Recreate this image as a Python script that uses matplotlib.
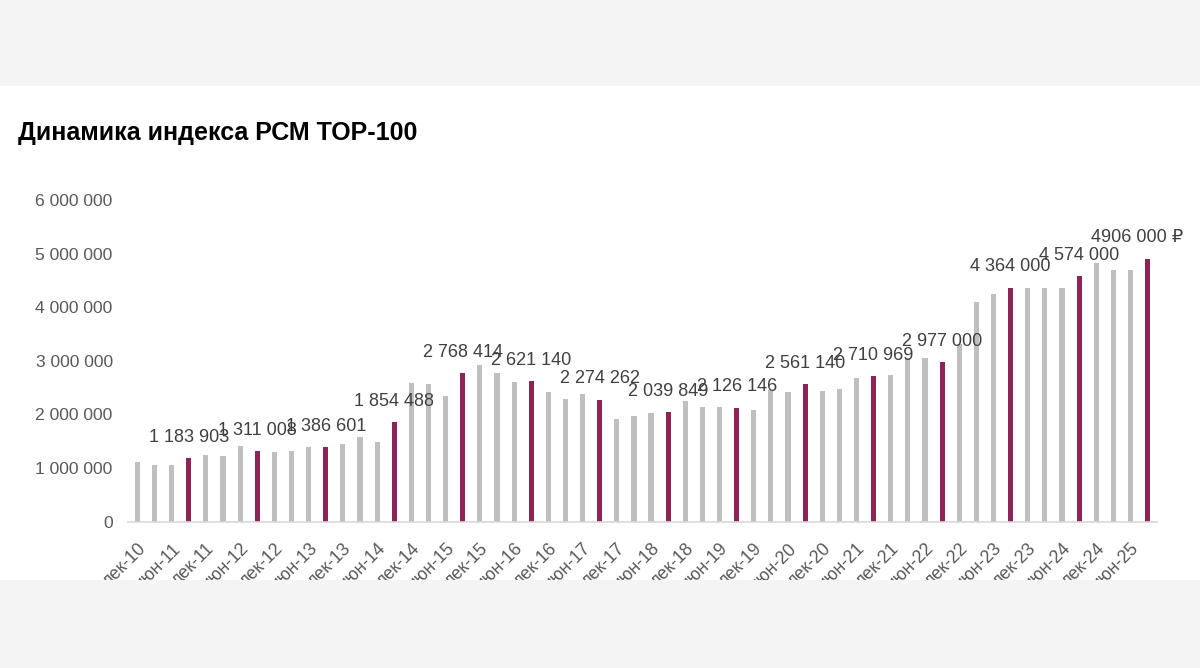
import matplotlib
matplotlib.use("Agg")
import matplotlib.pyplot as plt
from matplotlib.patches import Rectangle

plt.rcParams["font.family"] = ["Liberation Sans", "DejaVu Sans"]

# --- Данные: индекс РСМ ТОР-100, 60 значений ---
values = [
    1120000, 1060000, 1060000, 1183903,
    1247000, 1234000, 1415000, 1311008,
    1297000, 1327000, 1400000, 1386601,
    1458000, 1589000, 1495000, 1854488,
    2587000, 2574000, 2336000, 2768414,
    2930000, 2770000, 2605000, 2621140,
    2410000, 2290000, 2380000, 2274262,
    1910000, 1980000, 2025000, 2039849,
    2255000, 2130000, 2130000, 2126146,
    2080000, 2460000, 2420000, 2561140,
    2430000, 2475000, 2680000, 2710969,
    2737000, 3060000, 3050000, 2977000,
    3320000, 4100000, 4250000, 4364000,
    4360000, 4350000, 4360000, 4574000,
    4820000, 4700000, 4690000, 4906000,
]

tick_labels = [
    "дек-10", "июн-11", "дек-11", "июн-12", "дек-12", "июн-13",
    "дек-13", "июн-14", "дек-14", "июн-15", "дек-15", "июн-16",
    "дек-16", "июн-17", "дек-17", "июн-18", "дек-18", "июн-19",
    "дек-19", "июн-20", "дек-20", "июн-21", "дек-21", "июн-22",
    "дек-22", "июн-23", "дек-23", "июн-24", "дек-24", "июн-25",
]

highlight_idx = [3, 7, 11, 15, 19, 23, 27, 31, 35, 39, 43, 47, 51, 55, 59]
highlight_text = [
    "1 183 903", "1 311 008", "1 386 601", "1 854 488", "2 768 414",
    "2 621 140", "2 274 262", "2 039 849", "2 126 146", "2 561 140",
    "2 710 969", "2 977 000", "4 364 000", "4 574 000", "4906 000 \u20bd",
]

GREY = "#bfbfbf"
PURPLE = "#8e2456"
BAND = "#f4f4f4"

fig = plt.figure(figsize=(12, 6.68), dpi=100)
fig.patch.set_facecolor("white")

ax = fig.add_axes([128 / 1200, 1 - 521.7 / 668, (1157 - 128) / 1200, (521.7 - 200) / 668])

x = list(range(len(values)))
colors = [PURPLE if i in highlight_idx else GREY for i in x]
ax.bar(x, values, width=0.3, color=colors, zorder=2)

for i, txt in zip(highlight_idx, highlight_text):
    dx = -7.5 if i == len(values) - 1 else 0
    ax.annotate(txt, (i, values[i]), xytext=(dx, 9), textcoords="offset points",
                ha="center", va="bottom", fontsize=13, color="#404040",
                annotation_clip=False, zorder=3)

ax.set_xlim(-0.55, len(values) - 0.45)
ax.set_ylim(0, 6000000)
ax.set_yticks(range(0, 6000001, 1000000))
ax.set_yticklabels([f"{v:,}".replace(",", " ") for v in range(0, 6000001, 1000000)])
ax.set_xticks(x[::2])
ax.set_xticklabels(tick_labels, rotation=45, ha="right", va="top",
                   rotation_mode="anchor")

ax.tick_params(axis="y", length=0, pad=11, labelsize=12.6, labelcolor="#595959")
ax.tick_params(axis="x", length=0, pad=13, labelsize=12.8, labelcolor="#595959")

for side in ["top", "right", "left"]:
    ax.spines[side].set_visible(False)
ax.spines["bottom"].set_color("#d9d9d9")
ax.spines["bottom"].set_linewidth(1.2)

fig.text(18 / 1200, 1 - 140 / 668, "Динамика индекса РСМ ТОР-100",
         fontsize=18, fontweight="bold", color="black", ha="left", va="baseline")

# серые полосы сверху и снизу
fig.add_artist(Rectangle((0, 1 - 86 / 668), 1, 86 / 668, transform=fig.transFigure,
                         facecolor=BAND, edgecolor="none", zorder=10))
fig.add_artist(Rectangle((0, 0), 1, 88 / 668, transform=fig.transFigure,
                         facecolor=BAND, edgecolor="none", zorder=10))

fig.savefig("out.png", dpi=100)
